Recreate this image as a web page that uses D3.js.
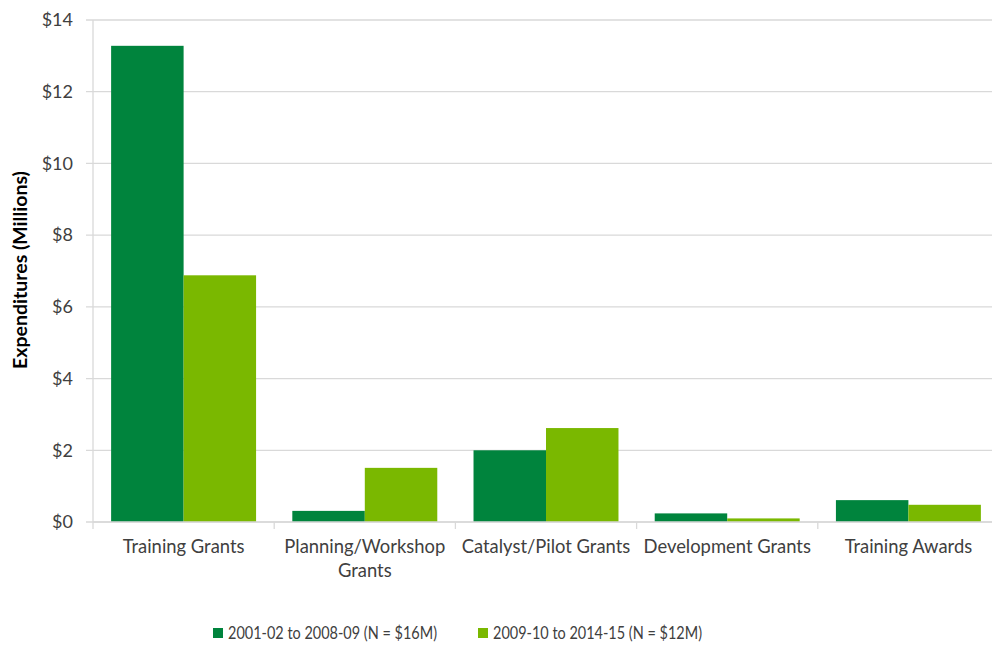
<!DOCTYPE html>
<html><head><meta charset="utf-8">
<script src="https://cdn.jsdelivr.net/npm/d3@7"></script>
<style>body{margin:0;background:#fff;} svg{display:block;font-family:Lato, 'Open Sans', sans-serif;}</style>
</head><body>
<svg id="chart" width="992" height="648"></svg>
<script>
const categories = ["Training Grants", "Planning/Workshop Grants", "Catalyst/Pilot Grants", "Development Grants", "Training Awards"];
const categoryLines = [["Training Grants"], ["Planning/Workshop", "Grants"], ["Catalyst/Pilot Grants"], ["Development Grants"], ["Training Awards"]];
const seriesNames = ["2001-02 to 2008-09 (N = $16M)", "2009-10 to 2014-15 (N = $12M)"];
const series1 = [13.28, 0.31, 2.0, 0.24, 0.61];
const series2 = [6.88, 1.51, 2.62, 0.10, 0.48];
const yTicks = [0, 2, 4, 6, 8, 10, 12, 14];
const colors = ["#00843D", "#7AB800"];

const svg = d3.select("#chart");
const m = {left: 93, right: 999, top: 20, bottom: 522};
const x = d3.scaleBand().domain(categories).range([m.left, m.right]).paddingInner(0.2).paddingOuter(0.1);
const x0 = d3.scaleBand().domain(["s1","s2"]).range([0, x.bandwidth()]);
const y = d3.scaleLinear().domain([0, 14]).range([m.bottom, m.top]);

// gridlines
svg.append("g").selectAll("line").data(yTicks).join("line")
  .attr("x1", m.left - 7).attr("x2", m.right)
  .attr("y1", d => y(d)).attr("y2", d => y(d))
  .attr("stroke", "#d9d9d9").attr("stroke-width", 1.3);

// y axis line
svg.append("line").attr("x1", m.left).attr("x2", m.left).attr("y1", m.top).attr("y2", m.bottom + 7)
  .attr("stroke", "#d9d9d9").attr("stroke-width", 1.3);

// category ticks
const bounds = categories.map((c, i) => m.left + i * (m.right - m.left) / categories.length);
svg.append("g").selectAll("line").data(bounds.slice(1)).join("line")
  .attr("x1", d => d).attr("x2", d => d).attr("y1", m.bottom).attr("y2", m.bottom + 7)
  .attr("stroke", "#d9d9d9").attr("stroke-width", 1.3);

// y tick labels
svg.append("g").selectAll("text").data(yTicks).join("text")
  .attr("x", 73).attr("y", d => y(d)).attr("dy", "0.35em").attr("text-anchor", "end")
  .attr("font-size", 18).attr("fill", "#404040").text(d => "$" + d);

// bars
const data = categories.map((c, i) => ({c, vals: [series1[i], series2[i]]}));
const groups = svg.append("g").selectAll("g").data(data).join("g")
  .attr("transform", d => `translate(${x(d.c)},0)`);
groups.selectAll("rect").data(d => d.vals.map((v, j) => ({v, j}))).join("rect")
  .attr("x", d => x0(d.j === 0 ? "s1" : "s2")).attr("width", x0.bandwidth())
  .attr("y", d => y(d.v)).attr("height", d => y(0) - y(d.v))
  .attr("fill", d => colors[d.j]);

// baseline over bars
svg.append("line").attr("x1", m.left).attr("x2", m.right).attr("y1", y(0)).attr("y2", y(0))
  .attr("stroke", "#d9d9d9").attr("stroke-width", 1.3);

// category labels
categories.forEach((c, i) => {
  const t = svg.append("text").attr("text-anchor", "middle").attr("font-size", 18.4).attr("fill", "#404040");
  categoryLines[i].forEach((line, k) => {
    t.append("tspan").attr("x", x(c) + x.bandwidth() / 2).attr("y", 553 + k * 24).text(line);
  });
});

// y title
svg.append("text").attr("transform", "translate(27,270) rotate(-90)").attr("text-anchor", "middle")
  .attr("font-size", 19.5).attr("font-weight", "bold").attr("fill", "#000").text("Expenditures (Millions)");

// legend
const legX = [213, 478];
seriesNames.forEach((s, i) => {
  svg.append("rect").attr("x", legX[i]).attr("y", 628).attr("width", 10).attr("height", 10).attr("fill", colors[i]);
  svg.append("text").attr("x", legX[i] + 15).attr("y", 633).attr("dy", "0.35em").attr("font-size", 17.5)
    .attr("textLength", 209).attr("lengthAdjust", "spacingAndGlyphs")
    .attr("fill", "#404040").text(s);
});
</script>
</body></html>
